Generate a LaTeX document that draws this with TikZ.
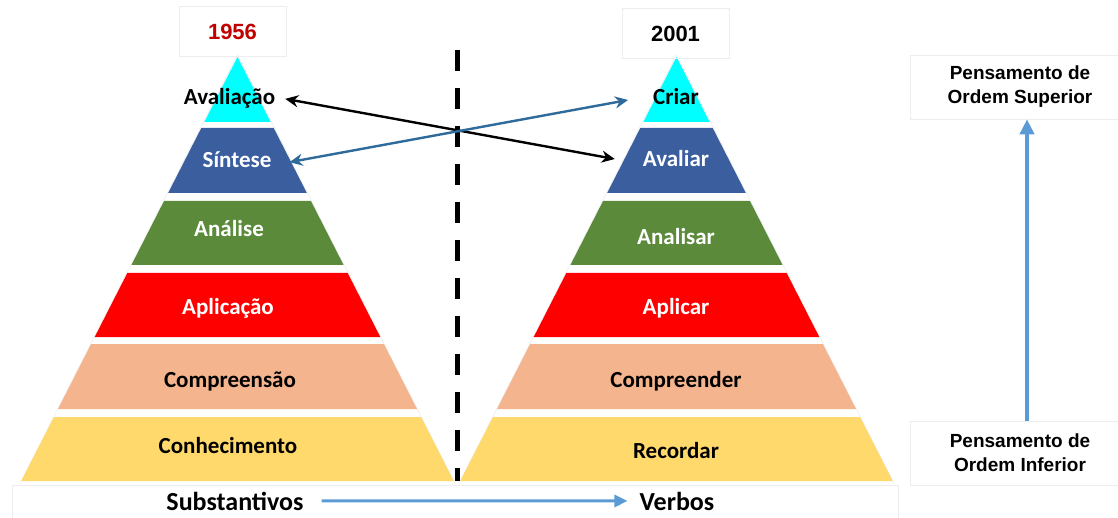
\documentclass[tikz,border=0pt]{standalone}
\usepackage{fontspec}
\setmainfont{Carlito}
\newfontfamily\arialf{Liberation Sans}
\usetikzlibrary{arrows.meta}
\definecolor{lvCyan}{HTML}{00FFFF}
\definecolor{lvBlue}{HTML}{3A5E9E}
\definecolor{lvGreen}{HTML}{5A8A3A}
\definecolor{lvRed}{HTML}{FF0000}
\definecolor{lvPeach}{HTML}{F4B58E}
\definecolor{lvYellow}{HTML}{FFD96B}
\definecolor{arrBlue}{HTML}{2F6B9A}
\definecolor{lightArr}{HTML}{5B9BD5}
\definecolor{yearRed}{HTML}{C00000}
\definecolor{faintLine}{gray}{0.93}
\newcommand\pyrband[4]{%
  \pgfmathsetmacro\pbwt{0.51*(#2-57)}%
  \pgfmathsetmacro\pbwb{0.51*(#3-57)}%
  \fill[#4] ({#1-\pbwt},#2) -- ({#1+\pbwt},#2) -- ({#1+\pbwb},#3) -- ({#1-\pbwb},#3) -- cycle;}
\begin{document}
\begin{tikzpicture}[x=1pt,y=-1pt,
  lbl/.style={font=\fontsize{23}{27}\selectfont\bfseries, inner sep=0pt, anchor=base},
  wlbl/.style={lbl, text=white},
  blbl/.style={lbl, text=black},
  botlbl/.style={lbl, font=\fontsize{26}{30}\selectfont\bfseries},
  yearbox/.style={draw=faintLine, line width=0.6pt, minimum width=107pt, minimum height=50pt,
    font=\arialf\fontsize{22}{26}\selectfont\bfseries, inner sep=0pt},
  thinkbox/.style={draw=faintLine, line width=0.6pt, minimum width=220pt, minimum height=64pt,
    font=\arialf\fontsize{19}{24}\selectfont\bfseries, align=center, inner sep=0pt},
  crossarrow/.style={line width=2.4pt, {Stealth[length=13pt,width=12pt]}-{Stealth[length=13pt,width=12pt]}},
  lightarrow/.style={lightArr, -{Triangle[length=15pt,width=14pt]}}
]
\useasboundingbox (0,0) rectangle (1118,518);
\fill[white] (0,0) rectangle (1118,518);

% faint bottom frame
\draw[faintLine, line width=0.6pt] (12,530) -- (12,485) -- (898,485) -- (898,530);

% pyramids
\foreach \cx in {237.5,676.5}{
  \draw[faintLine, line width=0.6pt] ({\cx-0.51*(484-57)},484) -- (\cx,55) -- ({\cx+0.51*(484-57)},484);
  \pyrband{\cx}{57}{122}{lvCyan}
  \pyrband{\cx}{128}{193}{lvBlue}
  \pyrband{\cx}{201}{265}{lvGreen}
  \pyrband{\cx}{273}{337}{lvRed}
  \pyrband{\cx}{344}{409}{lvPeach}
  \pyrband{\cx}{417}{481}{lvYellow}
}

% year boxes
\node[yearbox, text=yearRed] (y1956) at (232.5,31.5) {1956};
\node[yearbox, text=black] (y2001) at (675.5,33.5) {2001};

% labels left
\node[blbl] (aval) at (229.5,105) {Avaliação};
\node[wlbl] (sint) at (237,168) {Síntese};
\node[wlbl] (anal) at (229,237) {Análise};
\node[wlbl] (aplc) at (228,315) {Aplicação};
\node[blbl] (comp) at (230,387) {Compreensão};
\node[blbl] (conh) at (228,453) {Conhecimento};
\node[botlbl] (subs) at (235,510) {Substantivos};

% labels right
\node[blbl] (criar) at (676,105) {Criar};
\node[wlbl] (avaliar) at (676,167) {Avaliar};
\node[wlbl] (analisar) at (676,245) {Analisar};
\node[wlbl] (aplicar) at (676,315) {Aplicar};
\node[blbl] (compr) at (676,387) {Compreender};
\node[blbl] (recor) at (676,458) {Recordar};
\node[botlbl] (verbos) at (677,510) {Verbos};

% dashed divider
\draw[black, line width=5pt, dash pattern=on 21pt off 17pt] (457.5,50) -- (457.5,481);

% crossing arrows
\draw[crossarrow, black] ([xshift=10pt]aval.east) -- ([xshift=-28pt]avaliar.west);
\draw[crossarrow, arrBlue] ([xshift=18pt,yshift=-2pt]sint.east) -- ([xshift=-25pt,yshift=-3pt]criar.west);

% thinking boxes
\node[thinkbox] (sup) at (1020,87) {Pensamento de\\Ordem Superior};
\node[thinkbox] (inf) at (1020,453) {Pensamento de\\Ordem Inferior};
\draw[lightarrow, line width=4.5pt] ([xshift=7pt]inf.north) -- ([xshift=7pt]sup.south);

% bottom arrow
\draw[lightarrow, line width=3pt, -{Triangle[length=13pt,width=12pt]}] ([xshift=18pt,yshift=0pt]subs.east) -- ([xshift=-12pt,yshift=0pt]verbos.west);
\end{tikzpicture}
\end{document}
